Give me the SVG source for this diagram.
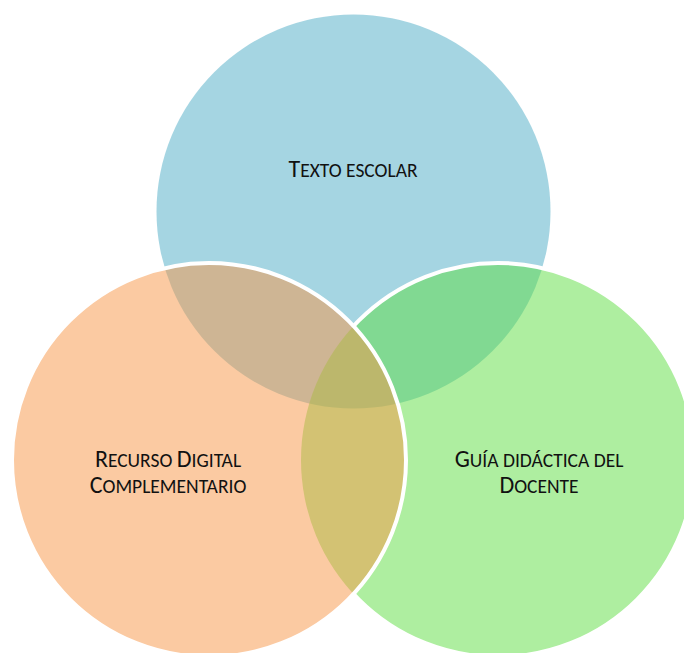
<svg xmlns="http://www.w3.org/2000/svg" width="684" height="653" viewBox="0 0 684 653">
<style>
.c{fill-opacity:0.5;stroke:none}
.s{fill:none;stroke:#fff;stroke-width:4}
.t{font-family:"Carlito","Liberation Sans",Arial,sans-serif;fill:#111;text-anchor:middle}
.b{font-size:24px}
.m{font-size:19.5px}
</style>
<defs>
<mask id="outOrange" maskUnits="userSpaceOnUse" x="0" y="0" width="684" height="653">
<rect x="0" y="0" width="684" height="653" fill="#fff"/>
<circle cx="209" cy="460" r="197" fill="#000"/>
</mask>
</defs>
<rect width="684" height="653" fill="#fff"/>
<g id="texto-escolar">
<circle class="c" cx="353.5" cy="211.5" r="197" fill="#4BACC6"/>
</g>
<g id="guia-didactica">
<circle class="c" cx="498" cy="460" r="197" fill="#5DDD41"/>
<circle class="s" cx="498" cy="460" r="197" mask="url(#outOrange)"/>
</g>
<g id="recurso-digital">
<circle class="c" cx="209" cy="460" r="197" fill="#F79646"/>
<circle class="s" cx="209" cy="460" r="197"/>
</g>
<g id="labels">
<text class="t" x="353" y="177"><tspan class="b">T</tspan><tspan class="m">EXTO ESCOLAR</tspan></text>
<text class="t" x="168" y="467"><tspan class="b">R</tspan><tspan class="m">ECURSO </tspan><tspan class="b">D</tspan><tspan class="m">IGITAL</tspan></text>
<text class="t" x="168" y="493"><tspan class="b">C</tspan><tspan class="m">OMPLEMENTARIO</tspan></text>
<text class="t" x="539" y="467"><tspan class="b">G</tspan><tspan class="m">UÍA DIDÁCTICA DEL</tspan></text>
<text class="t" x="539" y="493"><tspan class="b">D</tspan><tspan class="m">OCENTE</tspan></text>
</g>
</svg>
